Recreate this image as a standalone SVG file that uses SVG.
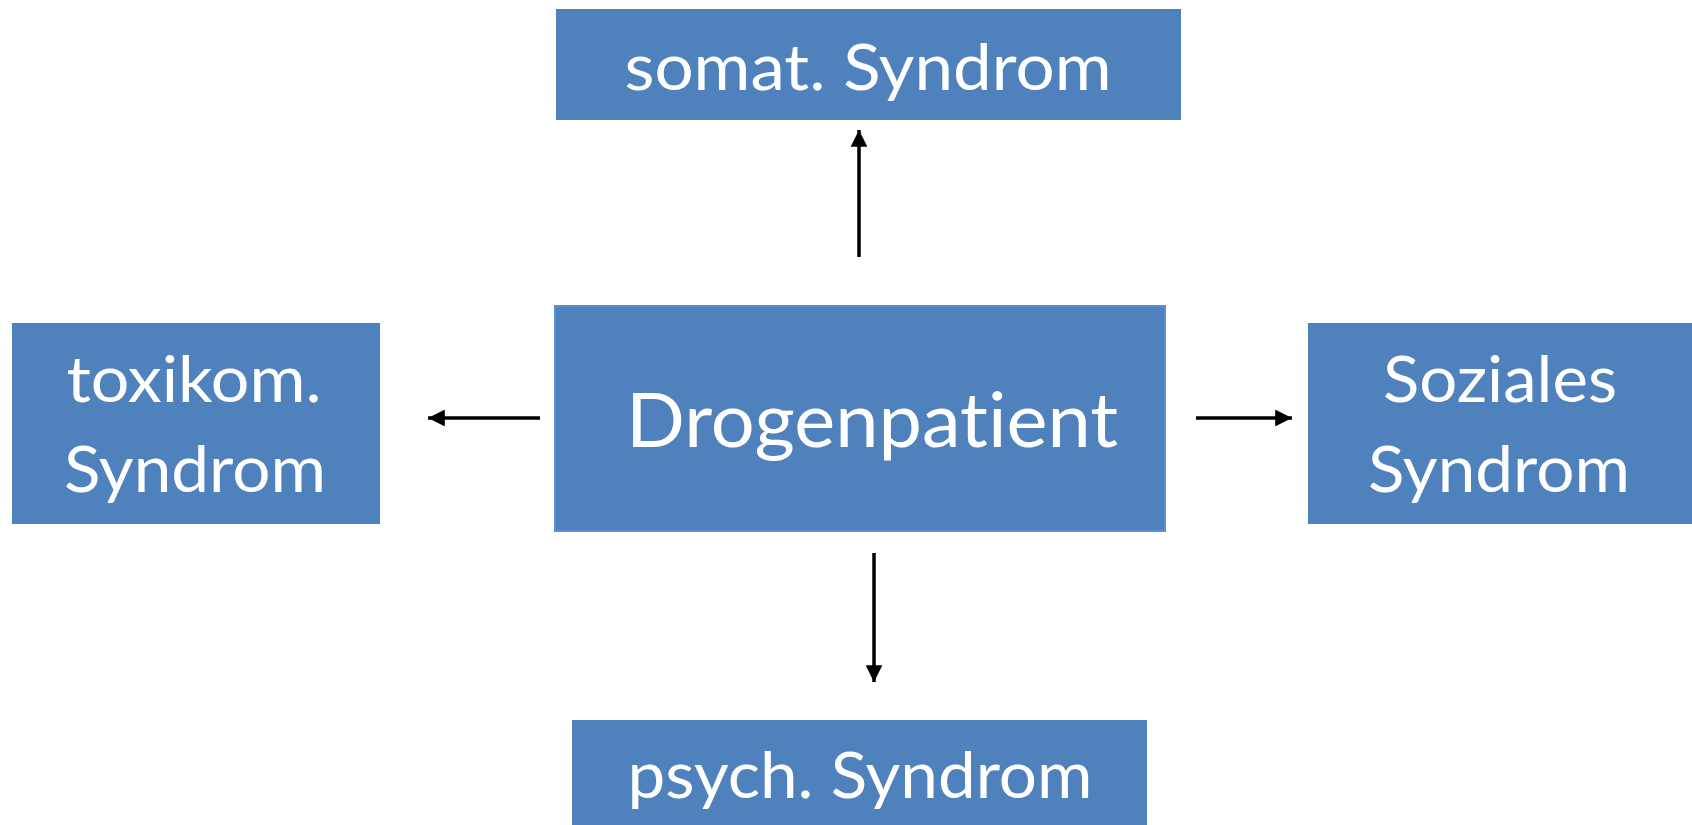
<svg xmlns="http://www.w3.org/2000/svg" width="1692" height="825" viewBox="0 0 1692 825">
<style>
.box{fill:#4F81BD;}
.t{font-family:Lato,"Liberation Sans",sans-serif;fill:#FFFFFF;text-anchor:middle;font-size:64px;font-variant-ligatures:none;font-feature-settings:"liga" 0,"dlig" 0;}
.big{font-size:75px;}
.c{stroke:#000;stroke-width:3.5;fill:none;marker-end:url(#ah);}
</style>
<defs>
<marker id="ah" viewBox="0 0 10 10" refX="10" refY="5" markerWidth="4.8" markerHeight="4.8" markerUnits="strokeWidth" orient="auto">
<path d="M0,0 L10,5 L0,10 z" fill="#000"/>
</marker>
</defs>
<rect width="1692" height="825" fill="#FFFFFF"/>
<g id="somat">
<rect class="box" x="556" y="9" width="625" height="111"/>
<text class="t" x="868" y="90" textLength="487" lengthAdjust="spacingAndGlyphs">somat. Syndrom</text>
</g>
<g id="drogenpatient">
<rect class="box" x="555" y="306" width="610" height="225" stroke="#5A8FD8" stroke-width="2"/>
<text class="t big" x="872" y="447" textLength="492" lengthAdjust="spacingAndGlyphs">Drogenpatient</text>
</g>
<g id="toxikom">
<rect class="box" x="12" y="323" width="368" height="201"/>
<text class="t" x="194" y="402" textLength="255" lengthAdjust="spacingAndGlyphs">toxikom.</text>
<text class="t" x="195" y="492" textLength="262" lengthAdjust="spacingAndGlyphs">Syndrom</text>
</g>
<g id="soziales">
<rect class="box" x="1308" y="323" width="384" height="201"/>
<text class="t" x="1500" y="402" textLength="234" lengthAdjust="spacingAndGlyphs">Soziales</text>
<text class="t" x="1499" y="492" textLength="262" lengthAdjust="spacingAndGlyphs">Syndrom</text>
</g>
<g id="psych">
<rect class="box" x="572" y="720" width="575" height="105"/>
<text class="t" x="860" y="798" textLength="465" lengthAdjust="spacingAndGlyphs">psych. Syndrom</text>
</g>
<g id="connectors">
<line class="c" x1="859" y1="257" x2="859" y2="130"/>
<line class="c" x1="540" y1="418" x2="428" y2="418"/>
<line class="c" x1="1196" y1="418" x2="1292" y2="418"/>
<line class="c" x1="874" y1="553" x2="874" y2="682"/>
</g>
</svg>
